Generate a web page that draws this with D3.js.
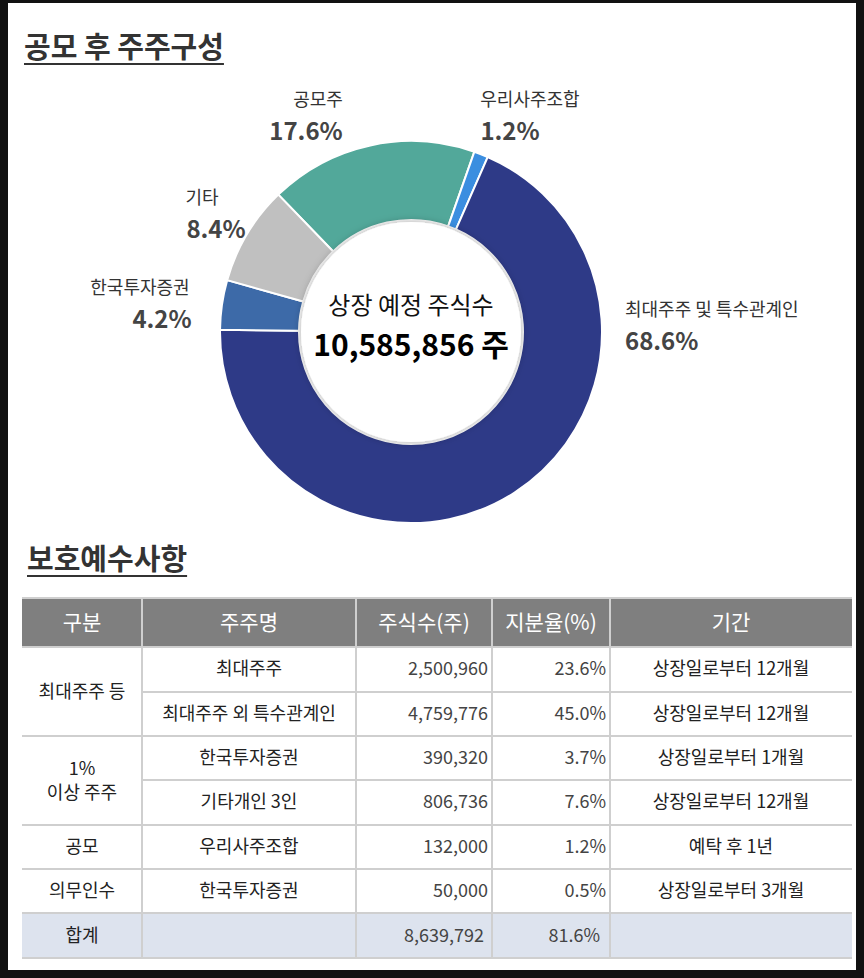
<!DOCTYPE html>
<html>
<head>
<meta charset="utf-8">
<script src="https://d3js.org/d3.v7.min.js"></script>
<style>body{margin:0;background:#111;} svg{display:block;font-family:"Noto Sans CJK KR",sans-serif;}</style>
</head>
<body>
<div id="chart"></div>
<script>
// donut data
var slices = ["공모주", "우리사주조합", "최대주주 및 특수관계인", "한국투자증권", "기타"];
var shares = [17.6, 1.2, 68.6, 4.2, 8.4];
var sliceColors = ["#52a89a", "#3b8ee0", "#2e3a87", "#3d6aa8", "#c0c0c0"];
var labelPos = [[318, 100], [530, 100], [625, 310], [140, 288], [202, 198]];

// table data
var headers = ["구분", "주주명", "주식수(주)", "지분율(%)", "기간"];
var groups = [["최대주주 등", 2], ["1%|이상 주주", 2], ["공모", 1], ["의무인수", 1]];
var holders = ["최대주주", "최대주주 외 특수관계인", "한국투자증권", "기타개인 3인", "우리사주조합", "한국투자증권"];
var counts = ["2,500,960", "4,759,776", "390,320", "806,736", "132,000", "50,000"];
var ratios = ["23.6%", "45.0%", "3.7%", "7.6%", "1.2%", "0.5%"];
var periods = ["상장일로부터 12개월", "상장일로부터 12개월", "상장일로부터 1개월", "상장일로부터 12개월", "예탁 후 1년", "상장일로부터 3개월"];
var total = ["합계", "", "8,639,792", "81.6%", ""];

var svg = d3.select("#chart").append("svg").attr("width", 864).attr("height", 978);
svg.append("rect").attr("width", 864).attr("height", 978).attr("fill", "#111");
svg.append("rect").attr("x", 8).attr("y", 3).attr("width", 848).attr("height", 967).attr("fill", "#fff");

function title(t, x, y) {
  var tx = svg.append("text").attr("x", x).attr("y", y).attr("font-size", 29).attr("font-weight", 700)
    .attr("fill", "#333").text(t);
  var w = tx.node().getComputedTextLength();
  svg.append("line").attr("x1", x).attr("x2", x + w).attr("y1", y + 6).attr("y2", y + 6)
    .attr("stroke", "#333").attr("stroke-width", 2);
}
title("공모 후 주주구성", 24, 58);
title("보호예수사항", 27, 570);

var cx = 411, cy = 332;
var pie = d3.pie().sort(null).startAngle(-44 * Math.PI / 180).endAngle(316 * Math.PI / 180);
var arc = d3.arc().innerRadius(112).outerRadius(191);
var g = svg.append("g").attr("transform", "translate(" + cx + "," + cy + ")");
g.selectAll("path").data(pie(shares)).enter().append("path")
  .attr("d", arc).attr("fill", function (d, i) { return sliceColors[i]; })
  .attr("stroke", "#fff").attr("stroke-width", 2);
var defs = svg.append("defs");
var f = defs.append("filter").attr("id", "sh").attr("x", "-20%").attr("y", "-20%").attr("width", "140%").attr("height", "140%");
f.append("feDropShadow").attr("dx", 0).attr("dy", 0).attr("stdDeviation", 4).attr("flood-opacity", 0.35);
g.append("circle").attr("r", 110).attr("fill", "#fff").attr("filter", "url(#sh)");
g.append("text").attr("y", -18).attr("text-anchor", "middle").attr("font-size", 24).attr("fill", "#111").text("상장 예정 주식수");
g.append("text").attr("y", 24).attr("text-anchor", "middle").attr("font-size", 30).attr("font-weight", 700).attr("fill", "#000").text("10,585,856 주");

var pctDx = [-12, -20, 0, 22, 14];
slices.forEach(function (s, i) {
  var p = labelPos[i];
  svg.append("text").attr("x", p[0]).attr("y", p[1] + 6).attr("text-anchor", i === 2 ? "start" : "middle")
    .attr("font-size", 18).attr("fill", "#333").text(s);
  svg.append("text").attr("x", p[0] + pctDx[i])
    .attr("y", p[1] + 40).attr("text-anchor", i === 2 ? "start" : "middle")
    .attr("font-size", 24).attr("font-weight", 700).attr("fill", "#444").text(shares[i].toFixed(1) + "%");
});

// table
var colX = [22, 142, 356, 492, 610, 852];
var rowY = [598, 647, 692, 736, 780, 825, 869, 913, 958];
var t = svg.append("g");
t.append("rect").attr("x", colX[0]).attr("y", rowY[0]).attr("width", colX[5] - colX[0]).attr("height", rowY[1] - rowY[0]).attr("fill", "#7f7f7f");
t.append("rect").attr("x", colX[0]).attr("y", rowY[7]).attr("width", colX[5] - colX[0]).attr("height", rowY[8] - rowY[7]).attr("fill", "#dde3ee");
headers.forEach(function (h, i) {
  t.append("text").attr("x", (colX[i] + colX[i + 1]) / 2).attr("y", rowY[0] + 32).attr("text-anchor", "middle")
    .attr("font-size", 21).attr("fill", "#fff").text(h);
});
rowY.forEach(function (y, r) {
  var x1 = colX[0];
  if (r === 2 || r === 4) x1 = colX[1];
  t.append("line").attr("x1", x1).attr("x2", colX[5]).attr("y1", y).attr("y2", y).attr("stroke", "#cfcfcf").attr("stroke-width", 2);
});
colX.slice(1, 5).forEach(function (x) {
  t.append("line").attr("x1", x).attr("x2", x).attr("y1", rowY[0]).attr("y2", rowY[8]).attr("stroke", "#cfcfcf").attr("stroke-width", 2);
});
var r0 = 1;
groups.forEach(function (gr) {
  var yc = (rowY[r0] + rowY[r0 + gr[1]]) / 2;
  var lines = gr[0].split("|");
  lines.forEach(function (l, k) {
    t.append("text").attr("x", (colX[0] + colX[1]) / 2).attr("y", yc + 6 + (k - (lines.length - 1) / 2) * 24)
      .attr("text-anchor", "middle").attr("font-size", 18).attr("fill", "#222").text(l);
  });
  r0 += gr[1];
});
holders.forEach(function (h, i) {
  var y = rowY[i + 1] + 28;
  t.append("text").attr("x", (colX[1] + colX[2]) / 2).attr("y", y).attr("text-anchor", "middle").attr("font-size", 18).attr("fill", "#222").text(h);
  t.append("text").attr("x", colX[3] - 4).attr("y", y).attr("text-anchor", "end").attr("font-size", 18).attr("fill", "#444").text(counts[i]);
  t.append("text").attr("x", colX[4] - 4).attr("y", y).attr("text-anchor", "end").attr("font-size", 18).attr("fill", "#444").text(ratios[i]);
  t.append("text").attr("x", (colX[4] + colX[5]) / 2).attr("y", y).attr("text-anchor", "middle").attr("font-size", 18).attr("fill", "#222").text(periods[i]);
});
t.append("text").attr("x", (colX[0] + colX[1]) / 2).attr("y", rowY[7] + 29).attr("text-anchor", "middle").attr("font-size", 18).attr("fill", "#222").text(total[0]);
t.append("text").attr("x", colX[3] - 8).attr("y", rowY[7] + 29).attr("text-anchor", "end").attr("font-size", 18).attr("fill", "#444").text(total[2]);
t.append("text").attr("x", colX[4] - 10).attr("y", rowY[7] + 29).attr("text-anchor", "end").attr("font-size", 18).attr("fill", "#444").text(total[3]);
</script>
</body>
</html>
